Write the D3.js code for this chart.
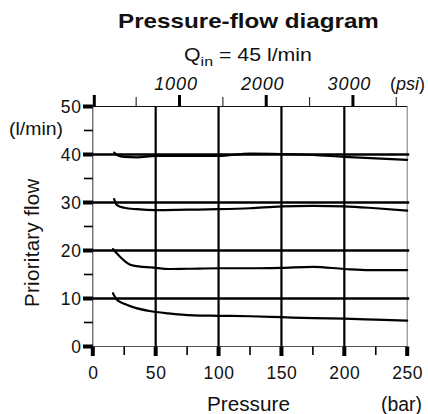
<!DOCTYPE html>
<html>
<head>
<meta charset="utf-8">
<script src="https://cdn.jsdelivr.net/npm/d3@7"></script>
<style>
  html, body { margin: 0; padding: 0; background: #fff; }
  svg { display: block; }
  text { font-family: "Liberation Sans", Arial, Helvetica, sans-serif; fill: #111; }
</style>
</head>
<body>
<svg id="chart" width="428" height="414"></svg>
<script>
// ---- data ----
const curve40 = [[17,40.4],[20,39.8],[25,39.5],[35,39.4],[50,39.7],[75,39.7],[100,39.7],[125,40.2],[150,40.1],[175,39.9],[200,39.5],[225,39.2],[250,38.9]];
const curve30 = [[17,30.7],[19,29.5],[25,28.9],[35,28.6],[50,28.4],[75,28.5],[100,28.6],[125,28.8],[150,29.2],[175,29.3],[200,29.2],[225,28.8],[250,28.3]];
const curve20 = [[16,20.3],[22,18.6],[30,17.0],[40,16.6],[50,16.4],[60,16.15],[75,16.2],[100,16.3],[125,16.3],[150,16.4],[175,16.6],[200,16.15],[220,15.9],[250,15.9]];
const curve10 = [[16,11.1],[19,9.8],[25,8.9],[32,8.2],[45,7.4],[60,6.9],[80,6.5],[100,6.4],[125,6.3],[150,6.1],[175,5.9],[200,5.8],[225,5.6],[250,5.4]];
const series = [curve40, curve30, curve20, curve10];
const xMajorTicks = [0, 50, 100, 150, 200, 250];
const xMinorTicks = [25, 75, 125, 175, 225];
const yMajorTicks = [0, 10, 20, 30, 40, 50];
const yMinorTicks = [5, 15, 25, 35, 45];
const psiMajorTicks = [0, 1000, 2000, 3000];
const psiMinorTicks = [500, 1500, 2500, 3500];
const psiLabels = [1000, 2000, 3000];
const titleText = "Pressure-flow diagram";
const yTitle = "Prioritary flow";
const xTitle = "Pressure";
const PSI_PER_BAR = 14.5038;

// ---- layout ----
const svg = d3.select("#chart");
const x = d3.scaleLinear().domain([0, 250]).range([92.8, 407.2]);
const y = d3.scaleLinear().domain([0, 50]).range([346.5, 106.5]);
const xp = v => x(v / PSI_PER_BAR);

// horizontally stretch a text (anchored at its left) to a target ink width
function stretch(sel, left, base, target) {
  sel.attr("x", 0).attr("y", 0);
  const w = sel.node().getBBox().width;
  const sx = target / w;
  sel.attr("transform", `translate(${left},${base}) scale(${sx.toFixed(4)},1)`);
  return sel;
}

// frame
const x0 = x(0), x1 = x(250), yT = y(50), yB = y(0);
svg.append("line").attr("x1", x0).attr("x2", x0).attr("y1", yT).attr("y2", yB).attr("stroke", "#555").attr("stroke-width", 1.2);
svg.append("line").attr("x1", x1).attr("x2", x1).attr("y1", yT).attr("y2", yB).attr("stroke", "#777").attr("stroke-width", 1);
svg.append("line").attr("x1", x0).attr("x2", x1).attr("y1", yT).attr("y2", yT).attr("stroke", "#111").attr("stroke-width", 1.2);
svg.append("line").attr("x1", x0).attr("x2", x1).attr("y1", yB).attr("y2", yB).attr("stroke", "#555").attr("stroke-width", 1);

// grid
svg.append("g").selectAll("line").data([10, 20, 30, 40]).join("line")
  .attr("x1", x0).attr("x2", x1 + 2).attr("y1", d => y(d)).attr("y2", d => y(d))
  .attr("stroke", "#000").attr("stroke-width", 2.4);
svg.append("g").selectAll("line").data([50, 100, 150, 200]).join("line")
  .attr("x1", d => x(d)).attr("x2", d => x(d)).attr("y1", yT).attr("y2", yB)
  .attr("stroke", "#000").attr("stroke-width", 2.2);

// y ticks
svg.append("g").selectAll("line").data(yMajorTicks).join("line")
  .attr("x1", 83).attr("x2", x0).attr("y1", d => y(d)).attr("y2", d => y(d))
  .attr("stroke", "#000").attr("stroke-width", 4);
svg.append("g").selectAll("line").data(yMinorTicks).join("line")
  .attr("x1", 84).attr("x2", x0).attr("y1", d => y(d)).attr("y2", d => y(d))
  .attr("stroke", "#000").attr("stroke-width", 1.6);
svg.append("g").selectAll("text").data(yMajorTicks).join("text")
  .attr("x", 81.5).attr("y", d => y(d) + 6.3).attr("text-anchor", "end")
  .attr("font-size", 17.5).attr("letter-spacing", 0.6).text(d => d);

// x ticks bottom
svg.append("g").selectAll("line").data(xMajorTicks).join("line")
  .attr("x1", d => x(d)).attr("x2", d => x(d)).attr("y1", yB).attr("y2", 356)
  .attr("stroke", "#000").attr("stroke-width", 4);
svg.append("g").selectAll("line").data(xMinorTicks).join("line")
  .attr("x1", d => x(d)).attr("x2", d => x(d)).attr("y1", yB).attr("y2", 355)
  .attr("stroke", "#000").attr("stroke-width", 1.6);
svg.append("g").selectAll("text").data(xMajorTicks).join("text")
  .attr("x", d => x(d) + 0.5).attr("y", 379).attr("text-anchor", "middle")
  .attr("font-size", 17.5).attr("letter-spacing", 0.6).text(d => d);

// top psi ticks
svg.append("g").selectAll("line").data(psiMajorTicks).join("line")
  .attr("x1", d => xp(d) + (d === 0 ? 1.5 : 0)).attr("x2", d => xp(d) + (d === 0 ? 1.5 : 0)).attr("y1", 95).attr("y2", yT)
  .attr("stroke", "#000").attr("stroke-width", 3);
svg.append("g").selectAll("line").data(psiMinorTicks).join("line")
  .attr("x1", d => xp(d)).attr("x2", d => xp(d)).attr("y1", 97).attr("y2", yT)
  .attr("stroke", "#222").attr("stroke-width", 1.1);
svg.append("g").selectAll("text").data(psiLabels).join("text")
  .attr("x", d => xp(d) - 3.5).attr("y", 89.5).attr("text-anchor", "middle")
  .attr("font-size", 18).attr("font-style", "italic").attr("letter-spacing", 0.9).text(d => d);
const psiUnit = svg.append("text").attr("x", 390).attr("y", 89.5).attr("font-size", 18);
psiUnit.append("tspan").text("(");
psiUnit.append("tspan").attr("font-style", "italic").text("psi");
psiUnit.append("tspan").text(")");

// curves
const line = d3.line().x(d => x(d[0])).y(d => y(d[1])).curve(d3.curveMonotoneX);
svg.append("g").selectAll("path").data(series).join("path")
  .attr("d", line).attr("fill", "none").attr("stroke", "#000")
  .attr("stroke-width", 2.2).attr("stroke-linecap", "round").attr("stroke-linejoin", "round");

// titles
stretch(svg.append("text").attr("font-size", 20.5).attr("font-weight", "bold").text(titleText), 118, 28.3, 261);

const sub = svg.append("text").attr("font-size", 18);
sub.append("tspan").text("Q");
sub.append("tspan").attr("font-size", 13.5).attr("dy", 5).text("in");
sub.append("tspan").attr("dy", -5).text(" = 45 l/min");
stretch(sub, 184, 60.5, 128);

stretch(svg.append("text").attr("font-size", 19).text("(l/min)"), 9, 135, 54);
svg.append("text").attr("transform", "translate(38.5,307) rotate(-90)").attr("font-size", 20.5).attr("letter-spacing", 0.3).text(yTitle);
stretch(svg.append("text").attr("font-size", 20).text(xTitle), 207, 411, 83);
stretch(svg.append("text").attr("font-size", 19.5).text("(bar)"), 381, 411, 41);
</script>
</body>
</html>
